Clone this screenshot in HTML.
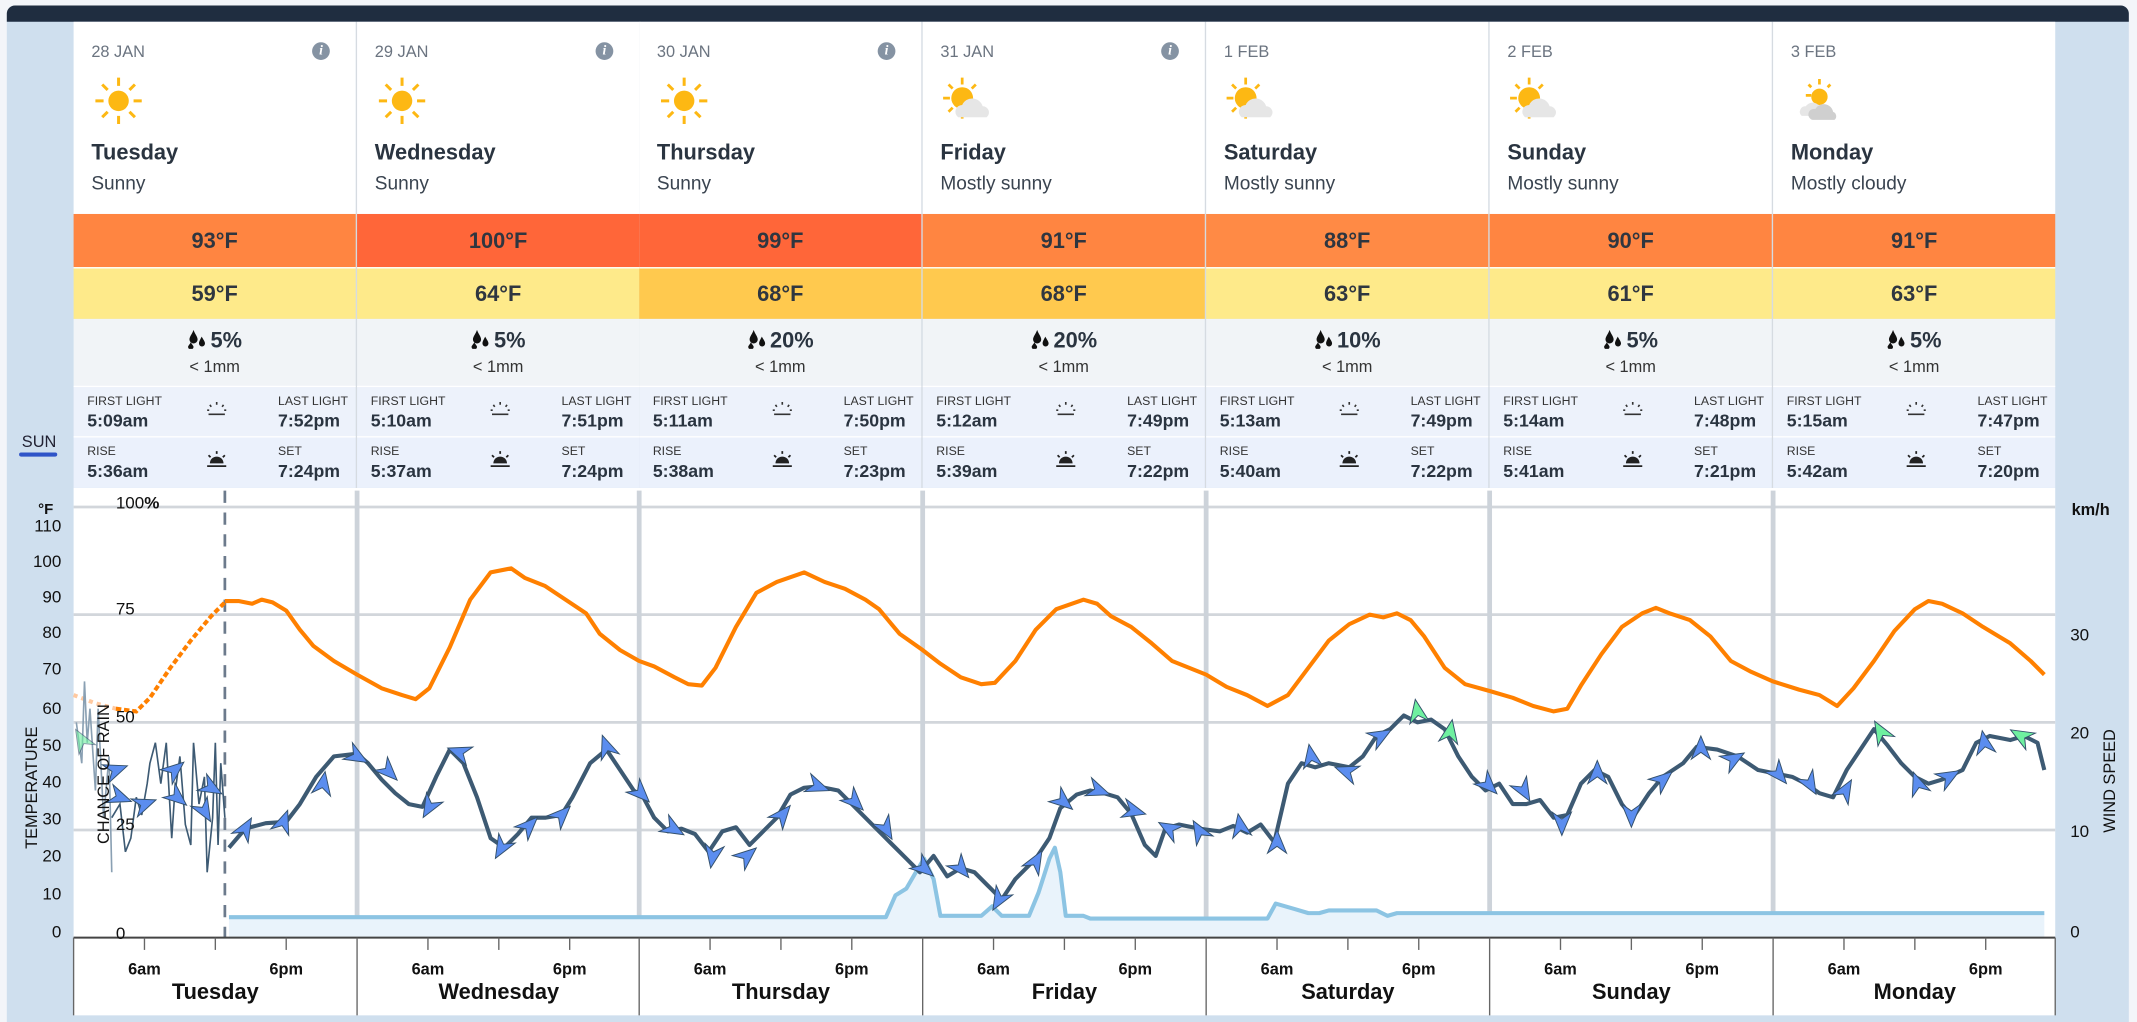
<!DOCTYPE html>
<html><head><meta charset="utf-8"><style>
*{margin:0;padding:0;box-sizing:border-box}
html,body{width:2137px;height:1022px;overflow:hidden;background:#f3f5f9;font-family:"Liberation Sans",sans-serif}
#w{position:absolute;left:0;top:0;width:1568px;height:750px;transform:scale(1.36288);transform-origin:0 0}
.a{position:absolute}
.col{position:absolute;top:16px;width:208px;height:342px;border-right:1px solid #d6dbe1}
.hd{position:absolute;left:0;top:0;width:100%;height:141px;background:#fff}
.dt{position:absolute;left:13px;top:15px;font-size:12px;color:#6b7480}
.ic{position:absolute;left:13px;top:38px}
.dn{position:absolute;left:13px;top:88px;font-size:16px;font-weight:bold;color:#2a3440}
.cd{position:absolute;left:13px;top:110px;font-size:14px;color:#3a4450}
.inf{position:absolute;right:19px;top:15px;width:13px;height:13px;border-radius:50%;background:#8593a3;color:#fff;font-size:10px;font-weight:bold;font-style:italic;text-align:center;line-height:13px;font-family:"Liberation Serif",serif}
.hi,.lo{position:absolute;left:0;width:100%;text-align:center;font-size:16px;font-weight:bold;color:#2f3640}
.hi{top:141px;height:39px;line-height:42px}
.lo{top:180px;height:38px;line-height:40px;border-top:1px solid #fff}
.rn{position:absolute;left:0;top:218px;width:100%;height:49px;background:#f1f4f7;text-align:center}
.rn b{display:block;font-size:16px;color:#2a3440;margin-top:8px}
.rn b svg{vertical-align:-1px;margin-right:3px}
.rn span{display:block;font-size:12px;color:#333;margin-top:2px}
.fl,.rs{position:absolute;left:0;width:100%;font-size:11px;color:#2a3440}
.fl{top:267px;height:37px;background:#edf2fb;border-top:1px solid #fff}
.rs{top:304px;height:38px;background:#ebf1fc;border-top:1px solid #fff}
.fl i,.rs i{position:absolute;font-style:normal;font-size:9px;top:5px;color:#333}
.fl b,.rs b{position:absolute;font-size:13px;top:17px}
.l{left:10px}.r{left:150px}
.sy{position:absolute;left:96px;top:9px}
</style></head><body><div id="w">
<div class="a" style="left:5px;top:4px;width:1557px;height:746px;background:#cfdfee;border-radius:6px 6px 0 0"></div>
<div class="a" style="left:5px;top:4px;width:1557px;height:12px;background:#1f2d40;border-radius:6px 6px 0 0"></div>
<div class="a" style="left:54px;top:358px;width:1454px;height:387px;background:#fff"></div>
<div class="a" style="left:16px;top:317px;font-size:12px;color:#223">SUN</div>
<div class="a" style="left:14px;top:332px;width:28px;height:3px;background:#2f54c8;border-radius:2px"></div>

<div class="col" style="left:54px"><div class="hd"><div class="dt">28 JAN</div><div class="inf">i</div><div class="ic"><svg width="40" height="40"><g stroke="#fdb813" stroke-width="2.2"><line x1="20" y1="3" x2="20" y2="9"/><line x1="20" y1="31" x2="20" y2="37"/><line x1="3" y1="20" x2="9" y2="20"/><line x1="31" y1="20" x2="37" y2="20"/><line x1="8" y1="8" x2="12" y2="12"/><line x1="28" y1="28" x2="32" y2="32"/><line x1="32" y1="8" x2="28" y2="12"/><line x1="8" y1="32" x2="12" y2="28"/></g><circle cx="20" cy="20" r="7.5" fill="#fdb813"/></svg></div><div class="dn">Tuesday</div><div class="cd">Sunny</div></div>
<div class="hi" style="background:#ff8541">93°F</div><div class="lo" style="background:#feea8a">59°F</div>
<div class="rn"><b><svg width="14" height="14"><path d="M5 0C4 3 2 5 2 7a3 3 0 0 0 6 0C8 5 6 3 5 0z M11 5C10 7 9 8.5 9 10a2.2 2.2 0 0 0 4.4 0C13.4 8.5 12 7 11 5z M3 9C2.5 10.5 1 11.5 1 12.5a2 2 0 0 0 4 0C5 11.5 3.5 10.5 3 9z" fill="#111"/></svg>5%</b><span>&lt; 1mm</span></div>
<div class="fl"><i class="l">FIRST LIGHT</i><b class="l">5:09am</b><i class="r">LAST LIGHT</i><b class="r">7:52pm</b><svg class="sy" width="18" height="14"><path d="M3 11h12M9 2v2M4 4l1 1.5M14 4l-1 1.5M2 8h1.5M16 8h-1.5" stroke="#333" stroke-width="1.2"/></svg></div>
<div class="rs"><i class="l">RISE</i><b class="l">5:36am</b><i class="r">SET</i><b class="r">7:24pm</b><svg class="sy" width="18" height="14"><path d="M4 10a5 5 0 0 1 10 0z" fill="#222"/><path d="M2 12h14M9 1v2M3 4l1.5 1.5M15 4l-1.5 1.5" stroke="#222" stroke-width="1.3"/></svg></div></div>

<div class="col" style="left:262px"><div class="hd"><div class="dt">29 JAN</div><div class="inf">i</div><div class="ic"><svg width="40" height="40"><g stroke="#fdb813" stroke-width="2.2"><line x1="20" y1="3" x2="20" y2="9"/><line x1="20" y1="31" x2="20" y2="37"/><line x1="3" y1="20" x2="9" y2="20"/><line x1="31" y1="20" x2="37" y2="20"/><line x1="8" y1="8" x2="12" y2="12"/><line x1="28" y1="28" x2="32" y2="32"/><line x1="32" y1="8" x2="28" y2="12"/><line x1="8" y1="32" x2="12" y2="28"/></g><circle cx="20" cy="20" r="7.5" fill="#fdb813"/></svg></div><div class="dn">Wednesday</div><div class="cd">Sunny</div></div>
<div class="hi" style="background:#ff6639">100°F</div><div class="lo" style="background:#feea8a">64°F</div>
<div class="rn"><b><svg width="14" height="14"><path d="M5 0C4 3 2 5 2 7a3 3 0 0 0 6 0C8 5 6 3 5 0z M11 5C10 7 9 8.5 9 10a2.2 2.2 0 0 0 4.4 0C13.4 8.5 12 7 11 5z M3 9C2.5 10.5 1 11.5 1 12.5a2 2 0 0 0 4 0C5 11.5 3.5 10.5 3 9z" fill="#111"/></svg>5%</b><span>&lt; 1mm</span></div>
<div class="fl"><i class="l">FIRST LIGHT</i><b class="l">5:10am</b><i class="r">LAST LIGHT</i><b class="r">7:51pm</b><svg class="sy" width="18" height="14"><path d="M3 11h12M9 2v2M4 4l1 1.5M14 4l-1 1.5M2 8h1.5M16 8h-1.5" stroke="#333" stroke-width="1.2"/></svg></div>
<div class="rs"><i class="l">RISE</i><b class="l">5:37am</b><i class="r">SET</i><b class="r">7:24pm</b><svg class="sy" width="18" height="14"><path d="M4 10a5 5 0 0 1 10 0z" fill="#222"/><path d="M2 12h14M9 1v2M3 4l1.5 1.5M15 4l-1.5 1.5" stroke="#222" stroke-width="1.3"/></svg></div></div>

<div class="col" style="left:469px"><div class="hd"><div class="dt">30 JAN</div><div class="inf">i</div><div class="ic"><svg width="40" height="40"><g stroke="#fdb813" stroke-width="2.2"><line x1="20" y1="3" x2="20" y2="9"/><line x1="20" y1="31" x2="20" y2="37"/><line x1="3" y1="20" x2="9" y2="20"/><line x1="31" y1="20" x2="37" y2="20"/><line x1="8" y1="8" x2="12" y2="12"/><line x1="28" y1="28" x2="32" y2="32"/><line x1="32" y1="8" x2="28" y2="12"/><line x1="8" y1="32" x2="12" y2="28"/></g><circle cx="20" cy="20" r="7.5" fill="#fdb813"/></svg></div><div class="dn">Thursday</div><div class="cd">Sunny</div></div>
<div class="hi" style="background:#ff6639">99°F</div><div class="lo" style="background:#ffc94e">68°F</div>
<div class="rn"><b><svg width="14" height="14"><path d="M5 0C4 3 2 5 2 7a3 3 0 0 0 6 0C8 5 6 3 5 0z M11 5C10 7 9 8.5 9 10a2.2 2.2 0 0 0 4.4 0C13.4 8.5 12 7 11 5z M3 9C2.5 10.5 1 11.5 1 12.5a2 2 0 0 0 4 0C5 11.5 3.5 10.5 3 9z" fill="#111"/></svg>20%</b><span>&lt; 1mm</span></div>
<div class="fl"><i class="l">FIRST LIGHT</i><b class="l">5:11am</b><i class="r">LAST LIGHT</i><b class="r">7:50pm</b><svg class="sy" width="18" height="14"><path d="M3 11h12M9 2v2M4 4l1 1.5M14 4l-1 1.5M2 8h1.5M16 8h-1.5" stroke="#333" stroke-width="1.2"/></svg></div>
<div class="rs"><i class="l">RISE</i><b class="l">5:38am</b><i class="r">SET</i><b class="r">7:23pm</b><svg class="sy" width="18" height="14"><path d="M4 10a5 5 0 0 1 10 0z" fill="#222"/><path d="M2 12h14M9 1v2M3 4l1.5 1.5M15 4l-1.5 1.5" stroke="#222" stroke-width="1.3"/></svg></div></div>

<div class="col" style="left:677px"><div class="hd"><div class="dt">31 JAN</div><div class="inf">i</div><div class="ic"><svg width="42" height="40"><g stroke="#fdb813" stroke-width="2"><line x1="16" y1="3" x2="16" y2="8"/><line x1="16" y1="28" x2="16" y2="33"/><line x1="2" y1="18" x2="7" y2="18"/><line x1="6" y1="8" x2="9" y2="11"/><line x1="26" y1="8" x2="23" y2="11"/><line x1="6" y1="28" x2="9" y2="25"/></g><circle cx="16" cy="18" r="8" fill="#fdb813"/><path d="M13 32a5 5 0 0 1 3-9a8 8 0 0 1 15 1a4.5 4.5 0 0 1 3 8z" fill="#e6e6e6"/></svg></div><div class="dn">Friday</div><div class="cd">Mostly sunny</div></div>
<div class="hi" style="background:#ff8541">91°F</div><div class="lo" style="background:#ffc94e">68°F</div>
<div class="rn"><b><svg width="14" height="14"><path d="M5 0C4 3 2 5 2 7a3 3 0 0 0 6 0C8 5 6 3 5 0z M11 5C10 7 9 8.5 9 10a2.2 2.2 0 0 0 4.4 0C13.4 8.5 12 7 11 5z M3 9C2.5 10.5 1 11.5 1 12.5a2 2 0 0 0 4 0C5 11.5 3.5 10.5 3 9z" fill="#111"/></svg>20%</b><span>&lt; 1mm</span></div>
<div class="fl"><i class="l">FIRST LIGHT</i><b class="l">5:12am</b><i class="r">LAST LIGHT</i><b class="r">7:49pm</b><svg class="sy" width="18" height="14"><path d="M3 11h12M9 2v2M4 4l1 1.5M14 4l-1 1.5M2 8h1.5M16 8h-1.5" stroke="#333" stroke-width="1.2"/></svg></div>
<div class="rs"><i class="l">RISE</i><b class="l">5:39am</b><i class="r">SET</i><b class="r">7:22pm</b><svg class="sy" width="18" height="14"><path d="M4 10a5 5 0 0 1 10 0z" fill="#222"/><path d="M2 12h14M9 1v2M3 4l1.5 1.5M15 4l-1.5 1.5" stroke="#222" stroke-width="1.3"/></svg></div></div>

<div class="col" style="left:885px"><div class="hd"><div class="dt">1 FEB</div><div class="ic"><svg width="42" height="40"><g stroke="#fdb813" stroke-width="2"><line x1="16" y1="3" x2="16" y2="8"/><line x1="16" y1="28" x2="16" y2="33"/><line x1="2" y1="18" x2="7" y2="18"/><line x1="6" y1="8" x2="9" y2="11"/><line x1="26" y1="8" x2="23" y2="11"/><line x1="6" y1="28" x2="9" y2="25"/></g><circle cx="16" cy="18" r="8" fill="#fdb813"/><path d="M13 32a5 5 0 0 1 3-9a8 8 0 0 1 15 1a4.5 4.5 0 0 1 3 8z" fill="#e6e6e6"/></svg></div><div class="dn">Saturday</div><div class="cd">Mostly sunny</div></div>
<div class="hi" style="background:#ff8a45">88°F</div><div class="lo" style="background:#feea8a">63°F</div>
<div class="rn"><b><svg width="14" height="14"><path d="M5 0C4 3 2 5 2 7a3 3 0 0 0 6 0C8 5 6 3 5 0z M11 5C10 7 9 8.5 9 10a2.2 2.2 0 0 0 4.4 0C13.4 8.5 12 7 11 5z M3 9C2.5 10.5 1 11.5 1 12.5a2 2 0 0 0 4 0C5 11.5 3.5 10.5 3 9z" fill="#111"/></svg>10%</b><span>&lt; 1mm</span></div>
<div class="fl"><i class="l">FIRST LIGHT</i><b class="l">5:13am</b><i class="r">LAST LIGHT</i><b class="r">7:49pm</b><svg class="sy" width="18" height="14"><path d="M3 11h12M9 2v2M4 4l1 1.5M14 4l-1 1.5M2 8h1.5M16 8h-1.5" stroke="#333" stroke-width="1.2"/></svg></div>
<div class="rs"><i class="l">RISE</i><b class="l">5:40am</b><i class="r">SET</i><b class="r">7:22pm</b><svg class="sy" width="18" height="14"><path d="M4 10a5 5 0 0 1 10 0z" fill="#222"/><path d="M2 12h14M9 1v2M3 4l1.5 1.5M15 4l-1.5 1.5" stroke="#222" stroke-width="1.3"/></svg></div></div>

<div class="col" style="left:1093px"><div class="hd"><div class="dt">2 FEB</div><div class="ic"><svg width="42" height="40"><g stroke="#fdb813" stroke-width="2"><line x1="16" y1="3" x2="16" y2="8"/><line x1="16" y1="28" x2="16" y2="33"/><line x1="2" y1="18" x2="7" y2="18"/><line x1="6" y1="8" x2="9" y2="11"/><line x1="26" y1="8" x2="23" y2="11"/><line x1="6" y1="28" x2="9" y2="25"/></g><circle cx="16" cy="18" r="8" fill="#fdb813"/><path d="M13 32a5 5 0 0 1 3-9a8 8 0 0 1 15 1a4.5 4.5 0 0 1 3 8z" fill="#e6e6e6"/></svg></div><div class="dn">Sunday</div><div class="cd">Mostly sunny</div></div>
<div class="hi" style="background:#ff8541">90°F</div><div class="lo" style="background:#feea8a">61°F</div>
<div class="rn"><b><svg width="14" height="14"><path d="M5 0C4 3 2 5 2 7a3 3 0 0 0 6 0C8 5 6 3 5 0z M11 5C10 7 9 8.5 9 10a2.2 2.2 0 0 0 4.4 0C13.4 8.5 12 7 11 5z M3 9C2.5 10.5 1 11.5 1 12.5a2 2 0 0 0 4 0C5 11.5 3.5 10.5 3 9z" fill="#111"/></svg>5%</b><span>&lt; 1mm</span></div>
<div class="fl"><i class="l">FIRST LIGHT</i><b class="l">5:14am</b><i class="r">LAST LIGHT</i><b class="r">7:48pm</b><svg class="sy" width="18" height="14"><path d="M3 11h12M9 2v2M4 4l1 1.5M14 4l-1 1.5M2 8h1.5M16 8h-1.5" stroke="#333" stroke-width="1.2"/></svg></div>
<div class="rs"><i class="l">RISE</i><b class="l">5:41am</b><i class="r">SET</i><b class="r">7:21pm</b><svg class="sy" width="18" height="14"><path d="M4 10a5 5 0 0 1 10 0z" fill="#222"/><path d="M2 12h14M9 1v2M3 4l1.5 1.5M15 4l-1.5 1.5" stroke="#222" stroke-width="1.3"/></svg></div></div>

<div class="col" style="left:1301px;width:207px;border-right:none"><div class="hd"><div class="dt">3 FEB</div><div class="ic"><svg width="42" height="40"><g stroke="#fdb813" stroke-width="2"><line x1="21" y1="4" x2="21" y2="8"/><line x1="11" y1="16" x2="15" y2="16"/><line x1="13" y1="8" x2="15" y2="10"/><line x1="29" y1="8" x2="27" y2="10"/></g><circle cx="21" cy="17" r="6" fill="#fdb813"/><path d="M8 31a4 4 0 0 1 3-7a6 6 0 0 1 10 0a3 3 0 0 1 0 7z" fill="#e6e6e6"/><path d="M16 34a4 4 0 0 1 2-8a7 7 0 0 1 13 2a3.5 3.5 0 0 1 1 6z" fill="#cfcfcf"/></svg></div><div class="dn">Monday</div><div class="cd">Mostly cloudy</div></div>
<div class="hi" style="background:#ff8541">91°F</div><div class="lo" style="background:#feea8a">63°F</div>
<div class="rn"><b><svg width="14" height="14"><path d="M5 0C4 3 2 5 2 7a3 3 0 0 0 6 0C8 5 6 3 5 0z M11 5C10 7 9 8.5 9 10a2.2 2.2 0 0 0 4.4 0C13.4 8.5 12 7 11 5z M3 9C2.5 10.5 1 11.5 1 12.5a2 2 0 0 0 4 0C5 11.5 3.5 10.5 3 9z" fill="#111"/></svg>5%</b><span>&lt; 1mm</span></div>
<div class="fl"><i class="l">FIRST LIGHT</i><b class="l">5:15am</b><i class="r">LAST LIGHT</i><b class="r">7:47pm</b><svg class="sy" width="18" height="14"><path d="M3 11h12M9 2v2M4 4l1 1.5M14 4l-1 1.5M2 8h1.5M16 8h-1.5" stroke="#333" stroke-width="1.2"/></svg></div>
<div class="rs"><i class="l">RISE</i><b class="l">5:42am</b><i class="r">SET</i><b class="r">7:20pm</b><svg class="sy" width="18" height="14"><path d="M4 10a5 5 0 0 1 10 0z" fill="#222"/><path d="M2 12h14M9 1v2M3 4l1.5 1.5M15 4l-1.5 1.5" stroke="#222" stroke-width="1.3"/></svg></div></div>

<svg class="a" style="left:0;top:0" width="1568" height="750" font-family="Liberation Sans, sans-serif">
<defs><path id="ar" d="M9,0 L-8,-7 L-3,0 L-8,7 Z" stroke="#33506b" stroke-width="0.7"/></defs>
<g stroke="#d2d6db" stroke-width="2">
<line x1="54" y1="372" x2="1508" y2="372"/><line x1="54" y1="451" x2="1508" y2="451"/><line x1="54" y1="530" x2="1508" y2="530"/><line x1="54" y1="609" x2="1508" y2="609"/></g>
<g stroke="#cdd3da" stroke-width="3.5">
<line x1="262" y1="360" x2="262" y2="688"/><line x1="469" y1="360" x2="469" y2="688"/><line x1="677" y1="360" x2="677" y2="688"/><line x1="885" y1="360" x2="885" y2="688"/><line x1="1093" y1="360" x2="1093" y2="688"/><line x1="1301" y1="360" x2="1301" y2="688"/></g>
<line x1="165" y1="360" x2="165" y2="688" stroke="#6c7a8c" stroke-width="2" stroke-dasharray="9,7"/>
<path d="M168,673 L650,673 L657,657 L665,652 L672,640 L678,630 L685,645 L690,672 L720,672 L728,665 L735,672 L755,672 L762,655 L770,630 L774,622 L778,640 L782,672 L795,672 L800,674 L930,674 L936,663 L950,667 L960,670 L968,670 L975,668 L1010,668 L1018,672 L1025,670 L1500,670 L1500,688 L168,688 Z" fill="#e9f3fb"/>
<path d="M168,673 L650,673 L657,657 L665,652 L672,640 L678,630 L685,645 L690,672 L720,672 L728,665 L735,672 L755,672 L762,655 L770,630 L774,622 L778,640 L782,672 L795,672 L800,674 L930,674 L936,663 L950,667 L960,670 L968,670 L975,668 L1010,668 L1018,672 L1025,670 L1500,670" fill="none" stroke="#8cc4e3" stroke-width="3" stroke-linejoin="round"/>
<polyline points="54,510 70,516 85,520" fill="none" stroke="#ffc9a0" stroke-width="3" stroke-dasharray="3,3"/>
<polyline points="85,520 100,522 110,512 125,490 140,470 155,452 165,442" fill="none" stroke="#ff8000" stroke-width="3" stroke-dasharray="4,2"/>
<polyline fill="none" stroke="#ff8000" stroke-width="3" stroke-linejoin="round" points="165,441 175,441 185,443 192,440 200,442 210,448 220,462 230,474 245,485 262,495 280,505 295,510 305,513 315,505 330,475 345,440 360,420 375,417 385,424 400,430 415,440 430,450 440,465 455,477 469,485 480,489 495,497 505,502 515,503 525,490 540,460 555,435 570,427 590,420 605,427 620,432 635,440 645,447 660,465 677,477 690,487 705,497 720,502 730,501 745,485 760,462 775,447 795,440 805,443 815,452 830,460 845,472 860,485 885,495 900,504 915,510 930,518 945,510 960,490 975,470 990,458 1005,451 1015,453 1025,450 1035,455 1045,467 1060,490 1075,502 1093,507 1110,512 1125,518 1140,522 1150,520 1160,503 1175,480 1190,460 1205,450 1215,446 1225,450 1240,455 1255,467 1270,485 1285,493 1301,500 1320,506 1335,510 1348,518 1360,505 1375,485 1390,463 1405,447 1415,441 1425,443 1440,450 1455,460 1475,472 1490,485 1500,495"/>
<polyline fill="none" stroke="#8aa0b3" stroke-width="1.2" points="56,530 60,560 62,500 64,545 66,520 70,580 72,520 76,600 80,555 82,640"/>
<polyline fill="none" stroke="#3d5a73" stroke-width="1.2" points="82,600 88,590 92,625 96,615 100,585 104,598 108,575 110,560 114,545 118,575 122,545 126,615 128,585 132,555 136,605 140,620 142,545 146,590 150,570 152,640 156,600 158,545 160,620 162,560 165,600"/>
<polyline fill="none" stroke="#3d5a73" stroke-width="3" stroke-linejoin="round" points="168,622 180,608 195,604 210,603 220,590 232,570 245,555 262,553 270,560 280,572 290,582 300,590 310,592 320,570 330,550 340,560 350,585 360,615 370,622 380,612 390,600 400,600 412,598 420,585 433,560 445,550 455,565 465,580 472,585 480,600 490,610 500,608 510,612 520,625 530,610 540,607 550,620 560,610 570,600 580,583 590,578 600,577 615,580 625,590 640,605 650,615 665,630 675,640 685,628 695,643 705,637 715,640 725,650 735,660 745,645 760,630 770,615 778,593 790,583 800,580 810,582 820,585 830,597 840,620 848,628 855,608 865,605 880,608 895,610 905,606 915,611 925,605 935,618 945,575 955,560 965,563 975,560 990,563 1000,555 1010,540 1020,535 1030,525 1040,530 1050,528 1060,535 1070,555 1080,570 1090,580 1100,575 1110,590 1120,590 1130,587 1140,600 1150,598 1160,575 1170,565 1180,570 1190,590 1198,600 1210,582 1220,570 1235,560 1245,548 1260,550 1275,555 1290,565 1305,568 1315,570 1325,575 1335,582 1345,585 1355,565 1365,550 1375,535 1385,547 1395,560 1405,570 1415,575 1425,572 1440,565 1450,545 1460,540 1475,543 1485,540 1495,545 1500,565"/>
<g fill="#5b8def">
<use href="#ar" transform="translate(180,608) rotate(-60)"/><use href="#ar" transform="translate(208,603) rotate(-70)"/><use href="#ar" transform="translate(237,575) rotate(-80)"/><use href="#ar" transform="translate(262,555) rotate(30)"/><use href="#ar" transform="translate(285,566) rotate(45)"/><use href="#ar" transform="translate(315,592) rotate(120)"/><use href="#ar" transform="translate(337,552) rotate(200)"/><use href="#ar" transform="translate(368,622) rotate(120)"/><use href="#ar" transform="translate(388,606) rotate(-45)"/><use href="#ar" transform="translate(412,598) rotate(-45)"/><use href="#ar" transform="translate(445,548) rotate(-110)"/><use href="#ar" transform="translate(470,582) rotate(45)"/><use href="#ar" transform="translate(494,608) rotate(30)"/><use href="#ar" transform="translate(523,628) rotate(100)"/><use href="#ar" transform="translate(548,628) rotate(-40)"/><use href="#ar" transform="translate(574,598) rotate(-50)"/><use href="#ar" transform="translate(600,577) rotate(20)"/><use href="#ar" transform="translate(627,588) rotate(45)"/><use href="#ar" transform="translate(650,608) rotate(60)"/><use href="#ar" transform="translate(678,637) rotate(40)"/><use href="#ar" transform="translate(705,637) rotate(50)"/><use href="#ar" transform="translate(733,660) rotate(120)"/><use href="#ar" transform="translate(760,632) rotate(-60)"/><use href="#ar" transform="translate(780,588) rotate(40)"/><use href="#ar" transform="translate(806,580) rotate(20)"/><use href="#ar" transform="translate(832,595) rotate(15)"/><use href="#ar" transform="translate(858,608) rotate(-150)"/><use href="#ar" transform="translate(880,610) rotate(-120)"/><use href="#ar" transform="translate(910,606) rotate(-100)"/><use href="#ar" transform="translate(937,618) rotate(-90)"/><use href="#ar" transform="translate(962,555) rotate(-100)"/><use href="#ar" transform="translate(988,566) rotate(-160)"/><use href="#ar" transform="translate(1013,540) rotate(-30)"/><use href="#ar" transform="translate(1092,576) rotate(45)"/><use href="#ar" transform="translate(1118,580) rotate(60)"/><use href="#ar" transform="translate(1146,604) rotate(90)"/><use href="#ar" transform="translate(1172,567) rotate(-90)"/><use href="#ar" transform="translate(1197,598) rotate(90)"/><use href="#ar" transform="translate(1220,572) rotate(-40)"/><use href="#ar" transform="translate(1248,549) rotate(-90)"/><use href="#ar" transform="translate(1272,557) rotate(-30)"/><use href="#ar" transform="translate(1305,568) rotate(50)"/><use href="#ar" transform="translate(1328,575) rotate(60)"/><use href="#ar" transform="translate(1354,580) rotate(-60)"/><use href="#ar" transform="translate(1407,575) rotate(-110)"/><use href="#ar" transform="translate(1430,570) rotate(-30)"/><use href="#ar" transform="translate(1456,545) rotate(-100)"/>
<use href="#ar" transform="translate(85,565) rotate(-20)"/><use href="#ar" transform="translate(88,585) rotate(20)"/><use href="#ar" transform="translate(106,590) rotate(-20)"/><use href="#ar" transform="translate(130,585) rotate(40)"/><use href="#ar" transform="translate(128,565) rotate(-40)"/><use href="#ar" transform="translate(155,578) rotate(30)"/><use href="#ar" transform="translate(150,595) rotate(60)"/>
</g>
<g fill="#6ff0a0"><use href="#ar" transform="translate(1040,522) rotate(-100)"/><use href="#ar" transform="translate(1064,537) rotate(-80)"/><use href="#ar" transform="translate(1380,537) rotate(-120)"/><use href="#ar" transform="translate(1483,540) rotate(-150)"/><use href="#ar" transform="translate(60,543) rotate(-120)" opacity="0.6"/></g>
<line x1="54" y1="688" x2="1508" y2="688" stroke="#444" stroke-width="1.5"/>
<g stroke="#666" stroke-width="1"><line x1="54" y1="688" x2="54" y2="745"/><line x1="262" y1="688" x2="262" y2="745"/><line x1="469" y1="688" x2="469" y2="745"/><line x1="677" y1="688" x2="677" y2="745"/><line x1="885" y1="688" x2="885" y2="745"/><line x1="1093" y1="688" x2="1093" y2="745"/><line x1="1301" y1="688" x2="1301" y2="745"/><line x1="1508" y1="688" x2="1508" y2="745"/></g>
<g stroke="#666" stroke-width="1">
<line x1="106" y1="688" x2="106" y2="697"/><line x1="158" y1="688" x2="158" y2="697"/><line x1="210" y1="688" x2="210" y2="697"/><line x1="314" y1="688" x2="314" y2="697"/><line x1="366" y1="688" x2="366" y2="697"/><line x1="418" y1="688" x2="418" y2="697"/><line x1="521" y1="688" x2="521" y2="697"/><line x1="573" y1="688" x2="573" y2="697"/><line x1="625" y1="688" x2="625" y2="697"/><line x1="729" y1="688" x2="729" y2="697"/><line x1="781" y1="688" x2="781" y2="697"/><line x1="833" y1="688" x2="833" y2="697"/><line x1="937" y1="688" x2="937" y2="697"/><line x1="989" y1="688" x2="989" y2="697"/><line x1="1041" y1="688" x2="1041" y2="697"/><line x1="1145" y1="688" x2="1145" y2="697"/><line x1="1197" y1="688" x2="1197" y2="697"/><line x1="1249" y1="688" x2="1249" y2="697"/><line x1="1353" y1="688" x2="1353" y2="697"/><line x1="1405" y1="688" x2="1405" y2="697"/><line x1="1457" y1="688" x2="1457" y2="697"/></g>
<g font-size="12" font-weight="bold" fill="#111" text-anchor="middle">
<text x="106" y="715">6am</text><text x="210" y="715">6pm</text><text x="314" y="715">6am</text><text x="418" y="715">6pm</text><text x="521" y="715">6am</text><text x="625" y="715">6pm</text><text x="729" y="715">6am</text><text x="833" y="715">6pm</text><text x="937" y="715">6am</text><text x="1041" y="715">6pm</text><text x="1145" y="715">6am</text><text x="1249" y="715">6pm</text><text x="1353" y="715">6am</text><text x="1457" y="715">6pm</text></g>
<g font-size="16" font-weight="bold" fill="#111" text-anchor="middle">
<text x="158" y="733">Tuesday</text><text x="366" y="733">Wednesday</text><text x="573" y="733">Thursday</text><text x="781" y="733">Friday</text><text x="989" y="733">Saturday</text><text x="1197" y="733">Sunday</text><text x="1405" y="733">Monday</text></g>
<g font-size="12.5" fill="#111" text-anchor="end">
<text x="45" y="390">110</text><text x="45" y="416">100</text><text x="45" y="442">90</text><text x="45" y="468">80</text><text x="45" y="495">70</text><text x="45" y="524">60</text><text x="45" y="551">50</text><text x="45" y="578">40</text><text x="45" y="605">30</text><text x="45" y="632">20</text><text x="45" y="660">10</text><text x="45" y="688">0</text></g>
<text x="28" y="377" font-size="11" font-weight="bold" fill="#111">°F</text>
<g font-size="12.5" fill="#111"><text x="85" y="373">100<tspan font-weight="bold">%</tspan></text><text x="85" y="451">75</text><text x="85" y="530">50</text><text x="85" y="609">25</text><text x="85" y="689">0</text></g>
<g font-size="12.5" fill="#111"><text x="1519" y="470">30</text><text x="1519" y="542">20</text><text x="1519" y="614">10</text><text x="1519" y="688">0</text></g>
<text x="1520" y="378" font-size="12" font-weight="bold" fill="#111">km/h</text>
<text transform="translate(27,578) rotate(-90)" font-size="12" fill="#111" text-anchor="middle">TEMPERATURE</text>
<text transform="translate(80,568) rotate(-90)" font-size="12" fill="#111" text-anchor="middle">CHANCE OF RAIN</text>
<text transform="translate(1552,573) rotate(-90)" font-size="12" fill="#111" text-anchor="middle">WIND SPEED</text>
</svg>
</div></body></html>
